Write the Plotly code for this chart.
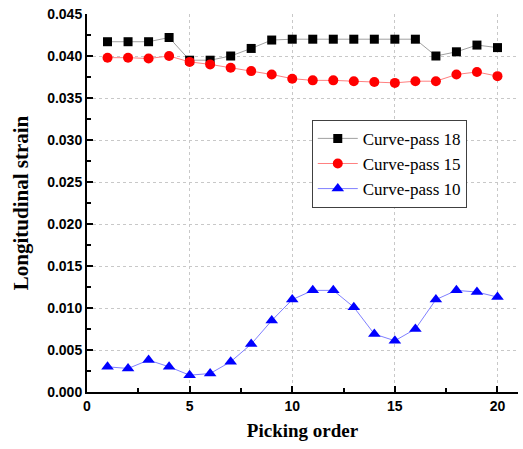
import plotly.graph_objects as go

order = list(range(1, 21))
pass18 = [0.0417, 0.0417, 0.0417, 0.0422, 0.0395, 0.0395, 0.0400, 0.0409, 0.0419, 0.0420,
          0.0420, 0.0420, 0.0420, 0.0420, 0.0420, 0.0420, 0.0400, 0.0405, 0.0413, 0.0410]
pass15 = [0.0398, 0.0398, 0.0397, 0.0400, 0.0393, 0.0390, 0.0386, 0.0382, 0.0378, 0.0373,
          0.0371, 0.0371, 0.0370, 0.0369, 0.0368, 0.0370, 0.0370, 0.0378, 0.0381, 0.0376]
pass10 = [0.0030, 0.0028, 0.0038, 0.0030, 0.0020, 0.0022, 0.0036, 0.0057, 0.0085, 0.0110,
          0.0121, 0.0121, 0.0101, 0.0069, 0.0061, 0.0075, 0.0110, 0.0121, 0.0119, 0.0113]

fig = go.Figure()
fig.add_trace(go.Scatter(x=order, y=pass18, mode="lines+markers", name="Curve-pass 18",
                         line=dict(color="#a0a0a0", width=1),
                         marker=dict(symbol="square", size=9, color="black")))
fig.add_trace(go.Scatter(x=order, y=pass15, mode="lines+markers", name="Curve-pass 15",
                         line=dict(color="#ff8080", width=1),
                         marker=dict(symbol="circle", size=10, color="red")))
fig.add_trace(go.Scatter(x=order, y=pass10, mode="lines+markers", name="Curve-pass 10",
                         line=dict(color="#8080ff", width=1),
                         marker=dict(symbol="triangle-up", size=11, color="blue")))

axis_common = dict(showline=True, linecolor="black", linewidth=2, mirror=False,
                   ticks="inside", ticklen=6, tickwidth=2, tickcolor="black",
                   showgrid=True, gridcolor="#c8c8c8", griddash="dot", gridwidth=1,
                   zeroline=False, automargin=False, ticklabeloverflow="allow",
                   tickfont=dict(family="Liberation Sans, Arial", size=14, color="black", weight="bold"))

fig.update_layout(
    width=523, height=449,
    margin=dict(l=87, r=5, t=14, b=57),
    paper_bgcolor="white", plot_bgcolor="white",
    showlegend=True,
    legend=dict(x=0.5215, y=0.72, xanchor="left", yanchor="top",
                bordercolor="#404040", borderwidth=1, bgcolor="white",
                font=dict(family="Liberation Serif, Times New Roman", size=17, color="black"),
                tracegroupgap=0, itemwidth=40),
    xaxis=dict(range=[0, 21], dtick=5, tick0=0,
               minor=dict(dtick=2.5, ticks="inside", ticklen=4, tickwidth=1.5, tickcolor="black", showgrid=False),
               title=dict(text="Picking order", standoff=11,
                          font=dict(family="Liberation Serif, Times New Roman", size=19, color="black", weight="bold")),
               **axis_common),
    yaxis=dict(range=[0, 0.045], dtick=0.005, tick0=0, tickformat=".3f",
               minor=dict(dtick=0.0025, ticks="inside", ticklen=4, tickwidth=1.5, tickcolor="black", showgrid=False),
               title=dict(text="Longitudinal strain", standoff=13,
                          font=dict(family="Liberation Serif, Times New Roman", size=21, color="black", weight="bold")),
               **axis_common),
)

fig.write_html("out.html", config={"displayModeBar": False},
               post_script="document.body.style.margin='0';")
